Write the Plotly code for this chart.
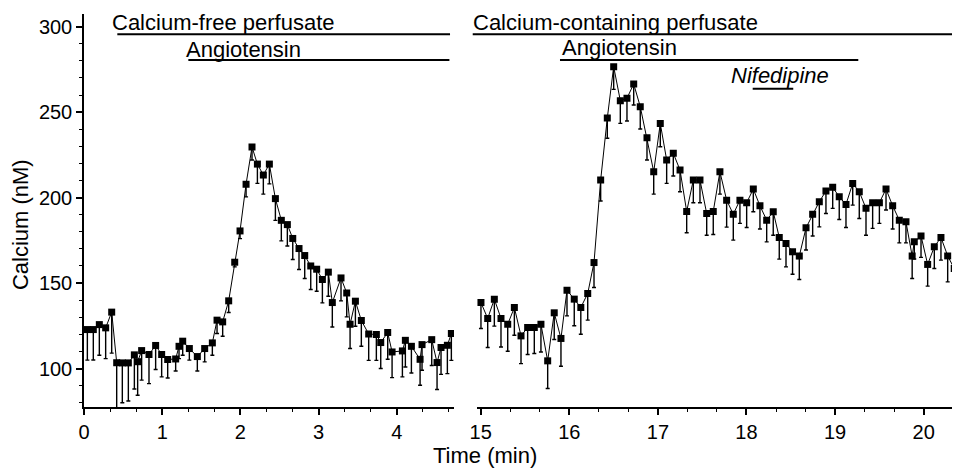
import plotly.graph_objects as go

# ---- Data: calcium-free perfusate phase (minutes 0-4.7) ----
time_free = [0.043, 0.119, 0.196, 0.277, 0.354, 0.418, 0.490, 0.567, 0.644, 0.686,
             0.737, 0.831, 0.916, 0.993, 1.070, 1.172, 1.215, 1.262, 1.347, 1.449,
             1.543, 1.641, 1.701, 1.773, 1.850, 1.927, 1.995, 2.072, 2.148, 2.217,
             2.293, 2.370, 2.447, 2.523, 2.600, 2.669, 2.749, 2.822, 2.899, 2.975,
             3.048, 3.124, 3.175, 3.286, 3.359, 3.402, 3.470, 3.546, 3.640, 3.738,
             3.794, 3.883, 3.939, 4.071, 4.109, 4.186, 4.297, 4.322, 4.446, 4.514,
             4.565, 4.646, 4.697]
calcium_free = [122.8, 122.8, 125.7, 123.8, 133.0, 103.4, 103.3, 103.3, 108.0, 104.0,
                110.5, 108.2, 113.5, 108.2, 105.3, 105.6, 113.0, 116.0, 111.7, 107.0,
                111.7, 115.0, 128.3, 127.3, 139.6, 162.2, 180.5, 207.8, 229.6, 219.6,
                213.2, 219.6, 199.4, 186.7, 184.2, 176.1, 170.2, 166.1, 160.0, 158.1,
                152.1, 156.4, 138.6, 153.0, 144.2, 125.9, 139.4, 128.1, 120.2, 119.9,
                115.2, 121.1, 109.7, 110.3, 116.5, 113.0, 105.4, 114.0, 116.9, 103.5,
                112.3, 113.6, 120.5]
err_free = [17.9, 17.8, 17.9, 18.0, 24.0, 40.0, 23.3, 22.3, 20.0, 19.6,
            17.3, 17.0, 14.1, 13.1, 10.8, 7.0, 7.2, 8.2, 6.8, 8.4,
            7.8, 7.2, 7.8, 8.4, 6.8, 2.7, 4.5, 7.4, 7.6, 11.3,
            11.2, 11.6, 12.7, 12.0, 12.5, 12.3, 12.3, 13.4, 13.8, 12.9,
            13.7, 14.1, 14.3, 13.4, 14.0, 14.2, 14.7, 15.1, 15.4, 15.1,
            15.2, 15.7, 15.0, 15.2, 15.6, 15.6, 15.2, 15.0, 15.1, 15.8,
            15.7, 16.6, 15.7]

# ---- Data: calcium-containing perfusate phase (minutes 15-20.4) ----
time_ca = [15.003, 15.079, 15.154, 15.229, 15.305, 15.380, 15.455, 15.530, 15.605, 15.680,
           15.756, 15.830, 15.906, 15.974, 16.056, 16.130, 16.208, 16.279, 16.354, 16.429,
           16.501, 16.576, 16.651, 16.727, 16.801, 16.877, 16.953, 17.027, 17.099, 17.174,
           17.250, 17.325, 17.400, 17.475, 17.551, 17.625, 17.700, 17.776, 17.851, 17.926,
           18.002, 18.077, 18.152, 18.228, 18.302, 18.370, 18.446, 18.520, 18.596, 18.672,
           18.747, 18.822, 18.897, 18.973, 19.047, 19.123, 19.199, 19.273, 19.349, 19.424,
           19.500, 19.575, 19.650, 19.725, 19.800, 19.870, 19.894, 19.970, 20.045, 20.120,
           20.195, 20.271, 20.345, 20.400]
calcium_ca = [138.6, 129.3, 140.6, 129.3, 125.9, 135.7, 119.1, 124.0, 124.0, 125.9,
              104.5, 132.6, 117.6, 145.8, 140.6, 135.7, 143.9, 162.0, 210.3, 246.5,
              276.6, 256.7, 258.1, 266.5, 253.2, 235.0, 215.1, 243.4, 222.0, 225.9,
              216.1, 191.9, 210.3, 210.3, 190.7, 191.9, 215.1, 198.5, 190.3, 198.5,
              197.0, 205.0, 195.2, 186.8, 191.7, 176.7, 173.2, 168.3, 165.8, 182.3,
              190.2, 197.6, 203.8, 206.0, 200.5, 196.0, 208.3, 203.4, 193.7, 197.0,
              197.0, 205.0, 195.2, 186.8, 185.8, 165.8, 174.1, 177.6, 160.9, 171.2,
              176.7, 165.9, 158.5, 155.5]
err_ca = [15.2, 17.0, 15.8, 16.7, 15.8, 16.2, 16.2, 15.8, 15.2, 16.2,
          16.2, 15.6, 16.3, 15.0, 15.6, 15.6, 15.6, 14.6, 12.3, 11.8,
          13.3, 13.3, 13.3, 12.3, 13.1, 13.0, 13.1, 13.7, 13.7, 13.3,
          12.7, 12.5, 13.3, 13.3, 12.7, 13.5, 13.1, 15.8, 15.2, 13.6,
          14.5, 13.3, 13.6, 12.7, 13.7, 12.7, 13.7, 13.1, 13.7, 13.0,
          12.7, 14.7, 13.1, 12.3, 13.3, 13.5, 12.7, 15.6, 15.7, 15.0,
          12.1, 12.3, 13.6, 13.3, 12.3, 13.1, 10.0, 12.6, 12.7, 12.7,
          13.3, 15.2, 15.6, 15.0]

# ---- Treatment periods (start, end in minutes) ----
free_perfusate_period = [0.426, 4.68]
angiotensin_period_1 = [1.334, 4.672]
ca_perfusate_period = [14.91, 20.6]
angiotensin_period_2 = [15.895, 19.262]
nifedipine_period = [18.07, 18.528]

y_ticks = [100, 150, 200, 250, 300]
x_ticks_free = [0, 1, 2, 3, 4]
x_ticks_ca = [15, 16, 17, 18, 19, 20]

FONT = "Liberation Sans, Arial, sans-serif"
BLACK = "#000000"

# axis layout
X1_DOMAIN, X1_RANGE = [0, 0.4224], [0, 4.731]
X2_DOMAIN, X2_RANGE = [0.4483, 1], [14.955, 20.41]
Y_RANGE = [77.5, 307.4]

fig = go.Figure()


def add_series(x, y, err, xaxis):
    fig.add_trace(go.Scatter(
        x=x, y=y, mode="lines+markers", xaxis=xaxis, yaxis="y",
        line=dict(color=BLACK, width=1),
        marker=dict(symbol="square", size=7, color=BLACK, line=dict(width=0)),
        error_y=dict(type="data", symmetric=False, array=[0] * len(err),
                     arrayminus=err, color=BLACK, thickness=1.4, width=2),
        showlegend=False, hoverinfo="x+y",
    ))


add_series(time_free, calcium_free, err_free, "x")
add_series(time_ca, calcium_ca, err_ca, "x2")


def x2_to_paper(t):
    """Map a time on the right-hand axis to paper coordinates."""
    frac = (t - X2_RANGE[0]) / (X2_RANGE[1] - X2_RANGE[0])
    return X2_DOMAIN[0] + frac * (X2_DOMAIN[1] - X2_DOMAIN[0])


# Period bars
bar_y = {"perf": 295.6, "ang": 280.5, "nif": 263.7}
shapes = []
for (period, xr, key) in [(free_perfusate_period, "x", "perf"),
                          (angiotensin_period_1, "x", "ang"),
                          (angiotensin_period_2, "x2", "ang"),
                          (nifedipine_period, "x2", "nif")]:
    shapes.append(dict(type="line", xref=xr, yref="y", x0=period[0], x1=period[1],
                       y0=bar_y[key], y1=bar_y[key],
                       line=dict(color=BLACK, width=2)))
# the calcium-containing bar starts just left of the right axis
shapes.append(dict(type="line", xref="paper", yref="y",
                   x0=x2_to_paper(ca_perfusate_period[0]),
                   x1=min(1.0, x2_to_paper(ca_perfusate_period[1])),
                   y0=bar_y["perf"], y1=bar_y["perf"],
                   line=dict(color=BLACK, width=2)))

annotations = [
    dict(text="Calcium-free perfusate", xref="x", yref="y", x=0.33, y=302.4,
         xanchor="left", yanchor="middle", showarrow=False),
    dict(text="Angiotensin", xref="x", yref="y", x=1.28, y=286.8,
         xanchor="left", yanchor="middle", showarrow=False),
    dict(text="Calcium-containing perfusate", xref="paper", yref="y",
         x=x2_to_paper(14.89), y=302.5,
         xanchor="left", yanchor="middle", showarrow=False),
    dict(text="Angiotensin", xref="x2", yref="y", x=15.89, y=287.6,
         xanchor="left", yanchor="middle", showarrow=False),
    dict(text="<i>Nifedipine</i>", xref="x2", yref="y", x=17.80, y=271.4,
         xanchor="left", yanchor="middle", showarrow=False),
    dict(text="Calcium (nM)", xref="paper", yref="paper", x=-0.073, y=0.463,
         textangle=-90, xanchor="center", yanchor="middle", showarrow=False),
    dict(text="Time (min)", xref="paper", yref="paper", x=0.458, y=-0.123,
         xanchor="center", yanchor="middle", showarrow=False),
]

axis_common = dict(
    showline=True, linecolor=BLACK, linewidth=1.5, mirror=False,
    ticks="outside", ticklen=6, tickwidth=1.5, tickcolor=BLACK,
    showgrid=False, zeroline=False, tickfont=dict(size=20, color=BLACK),
)

fig.update_layout(
    width=952, height=460,
    margin=dict(l=76, r=0, t=6, b=61, pad=0),
    paper_bgcolor="white", plot_bgcolor="white",
    font=dict(family=FONT, size=22, color=BLACK),
    shapes=shapes, annotations=annotations,
    xaxis=dict(domain=X1_DOMAIN, range=X1_RANGE, tickvals=x_ticks_free,
               anchor="y",
               minor=dict(dtick=1 / 3, tick0=0, ticks="outside", ticklen=3.5,
                          tickwidth=1.2, tickcolor=BLACK),
               **axis_common),
    xaxis2=dict(domain=X2_DOMAIN, range=X2_RANGE, tickvals=x_ticks_ca,
                anchor="y",
                minor=dict(dtick=1 / 3, tick0=15, ticks="outside", ticklen=3.5,
                           tickwidth=1.2, tickcolor=BLACK),
                **axis_common),
    yaxis=dict(range=Y_RANGE, tickvals=y_ticks, anchor="x",
               minor=dict(dtick=10, tick0=0, ticks="outside", ticklen=3.5,
                          tickwidth=1.2, tickcolor=BLACK),
               **axis_common),
)

fig.write_html("out.html")
